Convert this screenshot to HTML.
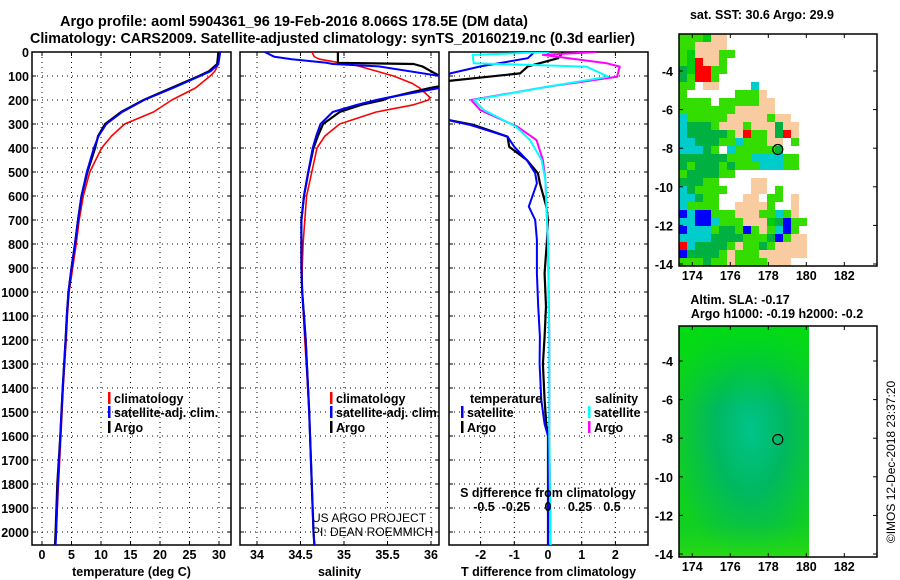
<!DOCTYPE html>
<html><head><meta charset="utf-8">
<style>
html,body{margin:0;padding:0;background:#fff;}
svg{display:block;font-family:"Liberation Sans",Arial,sans-serif;}
.b{font-weight:bold;}
</style></head>
<body>
<svg id="c" width="900" height="580" viewBox="0 0 900 580" xmlns="http://www.w3.org/2000/svg">
<text x="60" y="26" textLength="468" lengthAdjust="spacingAndGlyphs" font-size="15" class="b">Argo profile: aoml 5904361_96 19-Feb-2016 8.066S 178.5E (DM data)</text>
<text x="30" y="43" textLength="605" lengthAdjust="spacingAndGlyphs" font-size="15" class="b">Climatology: CARS2009. Satellite-adjusted climatology: synTS_20160219.nc (0.3d earlier)</text>
<g id="plots"></g>
</svg>
<script>
// ---- data ----
const depthTicks=[0,100,200,300,400,500,600,700,800,900,1000,1100,1200,1300,1400,1500,1600,1700,1800,1900,2000];
const tempTicks=[0,5,10,15,20,25,30];
const salTicks=[34,34.5,35,35.5,36];
const salTickLabels=["34","34.5","35","35.5","36"];
const tdTicks=[-2,-1,0,1,2];
const sdTicks=[-0.5,-0.25,0,0.25,0.5];
const sdTickLabels=["-0.5","-0.25","0","0.25","0.5"];

const tDepth=[0,50,80,100,150,200,250,300,350,400,500,600,700,800,900,1000,1100,1200,1400,1600,1800,2000,2054];
const tClim=[30,29.9,29.3,28.5,26,22,18.9,14,11.8,10.1,8.1,7.0,6.3,5.8,5.2,4.6,4.3,4.1,3.6,3.2,2.8,2.4,2.3];
const tSat=[30.2,29.9,28.6,26.8,22.2,17.3,13.6,10.9,9.6,8.8,7.6,6.7,6.1,5.6,5.0,4.5,4.2,4.0,3.5,3.1,2.7,2.4,2.3];
const tArgo=[29.9,29.7,28.3,26.6,21.9,17.2,13.4,10.7,9.5,9.0,7.7,6.7,6.1,5.6,5.0,4.5,4.2,4.0,3.5,3.1,2.6,2.3,2.2];

const sDepth=[0,20,30,45,50,60,100,130,150,190,200,220,250,300,350,400,500,600,700,800,900,1000,1200,1500,2000,2054];
const sClim=[34.63,34.66,34.72,34.95,35.07,35.18,35.57,35.78,35.87,35.99,35.97,35.8,35.37,34.95,34.78,34.69,34.63,34.57,34.55,34.53,34.52,34.52,34.55,34.6,34.65,34.66];
const sSat=[34.09,34.2,34.4,34.8,34.87,35.4,36.1,36.3,36.1,35.5,35.37,35.15,34.87,34.73,34.68,34.64,34.59,34.54,34.51,34.51,34.51,34.52,34.56,34.6,34.65,34.66];
const sArgo=[34.93,34.93,34.93,34.93,35.8,35.9,36.1,36.3,35.99,35.52,35.45,35.2,34.95,34.76,34.7,34.65,34.59,34.54,34.51,34.51,34.51,34.52,34.56,34.6,34.65,34.66];

const dDepth=[0,26,60,89,124,200,283,304,353,395,450,505,547,644,700,783,922,1061,1186,1300,1450,1550,1600,1800,2054];
const dtSat=[-0.4,-0.6,-2.0,-2.9,-3.2,-3.5,-3.0,-2.3,-1.2,-1.0,-0.63,-0.38,-0.33,-0.57,-0.38,-0.33,-0.33,-0.29,-0.24,-0.25,-0.2,-0.1,0,0,0];
const dtArgo=[0.45,0.3,-0.6,-0.83,-3.2,-3.5,-2.97,-2.2,-1.2,-1.15,-0.63,-0.3,-0.24,-0.05,-0.0,-0.03,-0.1,-0.06,-0.1,-0.15,-0.1,-0.05,0,0,0];
const cDepth=[0,12,47,61,103,144,200,242,311,367,450,533,800,1200,1600,2054];
const dsSat=[0.01,-0.59,-0.58,0.3,0.47,0.0,-0.58,-0.5,-0.25,-0.14,-0.05,-0.02,0.0,0.01,0.01,0.02];
const dsArgo=[0.38,-0.04,0.46,0.56,0.54,0.0,-0.6,-0.53,-0.24,-0.09,-0.04,-0.02,0.0,0.01,0.01,0.02];

const sstRows=[
"gggGpp..........","ggpppp..........","gGpppgg.........","gGrppg..........","dGrrgg..........",
"dgrrg...........","gg.pp....c......","g......gggp.....","gggg.gggggpp....","gggggggppppp....",
"cgggggpppppgpp..","cdddgpppgpppdpp.","cdddddgprggpdrp.","ccdddggcgggpp.g.","cccdg.cgggggd...",
"ddddddgggccccgg.","dgdddgdgggcccgg.","gddddgg.........","dddgg....pp.....","cdgggg...pp.g...",
"ccdgg...pp.gg.p.","cgggg..ppppg..p.","bcbbgggpppggcgp.","ccbbcgggpppGdbgg","bcccgddgbgpgcbg.",
"ccccddddgggdbgpp","rcddddgpggdgpppp","bddddgpgggpppppp","gggdggpggggppp.."];
const latTicks=[-4,-6,-8,-10,-12,-14];
const lonTicks=[174,176,178,180,182];
const floatLat=-8.066, floatLon=178.5;

// ---- drawing ----
const NS="http://www.w3.org/2000/svg";
const root=document.getElementById('plots');
function mk(tag,at,parent){const e=document.createElementNS(NS,tag);for(const k in at)e.setAttribute(k,at[k]);(parent||root).appendChild(e);return e;}
function txt(x,y,s,size,anchor,parent,bold){const t=mk('text',{x:x,y:y,'font-size':size,'text-anchor':anchor||'middle','font-weight':bold===false?'normal':'bold'},parent);t.textContent=s;return t;}
const Y=d=>52+d*0.24;
const TOP=52,BOT=545;
const panels=[
 {name:'temperature',x0:32,x1:231,fx:v=>42+v*5.9,ticks:tempTicks,labels:tempTicks.map(String),title:'temperature (deg C)'},
 {name:'salinity',x0:240,x1:439,fx:v=>257+(v-34)*87,ticks:salTicks,labels:salTickLabels,title:'salinity'},
 {name:'tdiff',x0:449,x1:648,fx:v=>548+v*33.7,ticks:tdTicks,labels:tdTicks.map(String),title:'T difference from climatology'}];
const fs=v=>548+v*128;
panels.forEach((p,i)=>{
 const g=mk('g',{});
 
 
 const cp=mk('clipPath',{id:'cp'+i},g);mk('rect',{x:p.x0,y:TOP,width:p.x1-p.x0,height:BOT-TOP},cp);
 const grid=mk('g',{stroke:'#000','stroke-width':1,'stroke-dasharray':'1,4'},g);
 
 
 depthTicks.forEach(d=>{if(d>0)mk('line',{x1:p.x0,x2:p.x1,y1:Y(d),y2:Y(d)},grid);});
 p.ticks.forEach(v=>{mk('line',{x1:p.fx(v),x2:p.fx(v),y1:TOP,y2:BOT},grid);});
 const tk=mk('g',{stroke:'#000','stroke-width':1},g);
 p.ticks.forEach((v,j)=>{const x=p.fx(v);mk('line',{x1:x,x2:x,y1:BOT,y2:BOT-4},tk);mk('line',{x1:x,x2:x,y1:TOP,y2:TOP+4},tk);
   const t=txt(x,559,p.labels[j],12.5,'middle',g);
   
   });
 depthTicks.forEach(d=>{mk('line',{x1:p.x0,x2:p.x0+4,y1:Y(d),y2:Y(d)},tk);mk('line',{x1:p.x1,x2:p.x1-4,y1:Y(d),y2:Y(d)},tk);});
 const at=txt((p.x0+p.x1)/2,576,p.title,12.5,'middle',g);
 
 
 mk('rect',{x:p.x0,y:TOP,width:p.x1-p.x0,height:BOT-TOP,fill:'none',stroke:'#000','stroke-width':1.5},g);
 p.g=g;p.clip='url(#cp'+i+')';
});
depthTicks.forEach(d=>{const t=txt(29,Y(d)+5,String(d),12.5,'end');
 
 });
function line(p,fx,depths,vals,color,name,w){
 const pts=depths.map((d,k)=>fx(vals[k]).toFixed(1)+','+Y(d).toFixed(1)).join(' ');
 const l=mk('polyline',{points:pts,fill:'none',stroke:color,'stroke-width':w||2,'clip-path':p.clip,'stroke-linejoin':'round'},p.g);
 
 
}
const P=panels;
line(P[0],P[0].fx,tDepth,tClim,'#f00','temp-climatology-line',1.6);
line(P[0],P[0].fx,tDepth,tArgo,'#000','temp-argo-line',2.2);
line(P[0],P[0].fx,tDepth,tSat,'#00f','temp-satellite-line',2);
line(P[1],P[1].fx,sDepth,sClim,'#f00','sal-climatology-line',1.6);
line(P[1],P[1].fx,sDepth,sArgo,'#000','sal-argo-line',2.2);
line(P[1],P[1].fx,sDepth,sSat,'#00f','sal-satellite-line',2);
line(P[2],P[2].fx,dDepth,dtArgo,'#000','tdiff-argo-line',2.2);
line(P[2],P[2].fx,dDepth,dtSat,'#00f','tdiff-satellite-line',2);
line(P[2],fs,cDepth,dsArgo,'#f0f','sdiff-argo-line',2);
line(P[2],fs,cDepth,dsSat,'#0ff','sdiff-satellite-line',2);
sdTicks.forEach((v,j)=>{const t=txt(fs(v),511,sdTickLabels[j],12.5,'middle',P[2].g);
 
 });
txt(548,497,'S difference from climatology',12.5,'middle',P[2].g);
function leg(g,x,y,color,label,name){
 mk('rect',{x:x,y:y-11,width:2.5,height:12,fill:color},g);
 const t=txt(x+6,y,label,12.5,'start',g);
 
 
}
[[P[0],108],[P[1],330]].forEach(([p,x],i)=>{
 leg(p.g,x,403,'#f00','climatology','legend-climatology');
 leg(p.g,x,417,'#00f','satellite-adj. clim.','legend-satellite-adj');
 leg(p.g,x,432,'#000','Argo','legend-argo');
});
txt(470,403,'temperature',12.5,'start',P[2].g);
leg(P[2].g,461,417,'#00f','satellite','legend-t-satellite');
leg(P[2].g,461,432,'#000','Argo','legend-t-argo');
txt(595,403,'salinity',12.5,'start',P[2].g);
leg(P[2].g,588,417,'#0ff','satellite','legend-s-satellite');
leg(P[2].g,588,432,'#f0f','Argo','legend-s-argo');
const pr=txt(312,522,'US ARGO PROJECT',12,'start',P[1].g,false);
const pi=txt(312,536,'PI: DEAN ROEMMICH',12,'start',P[1].g,false);

// ---- maps ----
const colors={g:'#33dd00',G:'#00cc11',d:'#00b040',c:'#00cccc',b:'#0000ff',p:'#f8cca0',r:'#ff0000'};
function mapFrame(name){
 const g=mk('g',{});
 
 
 return {g,lx:v=>679+(v-173.3)*19};
}
function axes(m,y0,y1){
 const g=m.g;
 latTicks.forEach(v=>{const y=m.ly(v);mk('line',{x1:679,x2:683,y1:y,y2:y,stroke:'#000'},g);mk('line',{x1:873,x2:877,y1:y,y2:y,stroke:'#000'},g);
  const t=txt(673,y+5,String(v),12.5,'end',g);
  
  });
 lonTicks.forEach(v=>{const x=m.lx(v);mk('line',{x1:x,x2:x,y1:y1,y2:y1-4,stroke:'#000'},g);mk('line',{x1:x,x2:x,y1:y0,y2:y0+4,stroke:'#000'},g);
  const t=txt(x,y1+14,String(v),12.5,'middle',g);
  
  });
 mk('rect',{x:679,y:y0,width:198,height:y1-y0,fill:'none',stroke:'#000','stroke-width':1.5},g);
 mk('circle',{cx:m.lx(floatLon),cy:m.ly(floatLat),r:5,fill:'none',stroke:'#000','stroke-width':1.2},g);
}
const m1=mapFrame('sst-map');
m1.ly=v=>264+( v+14)*(-19.3);
const cw=8,ch=8;
sstRows.forEach((row,r)=>{for(let c=0;c<row.length;c++){const k=row[c];if(colors[k]){
 const cell=mk('rect',{x:679+c*cw,y:34+r*ch,width:cw,height:ch,fill:colors[k]},m1.g);
 
 }}});
axes(m1,34,266);
const st=txt(762,19,'sat. SST: 30.6 Argo: 29.9',12.5,'middle',m1.g);

const m2=mapFrame('sla-map');
m2.ly=v=>554+( v+14)*(-19.3);
const defs=mk('defs',{},m2.g);
const rg=mk('radialGradient',{id:'sla',cx:'0.55',cy:'0.45',r:'0.6'},defs);
mk('stop',{offset:'0','stop-color':'#00c48a'},rg);
mk('stop',{offset:'0.45','stop-color':'#00b860'},rg);
mk('stop',{offset:'1','stop-color':'#10d020'},rg);
const lg=mk('linearGradient',{id:'slaTop',x1:0,y1:0,x2:0,y2:1},defs);
mk('stop',{offset:'0','stop-color':'#00dd10','stop-opacity':0.9},lg);
mk('stop',{offset:'0.35','stop-color':'#00dd10','stop-opacity':0},lg);
mk('stop',{offset:'0.85','stop-color':'#20d020','stop-opacity':0},lg);
mk('stop',{offset:'1','stop-color':'#30dd10','stop-opacity':0.8},lg);
const f=mk('rect',{x:679,y:326,width:130,height:231,fill:'url(#sla)'},m2.g);

mk('rect',{x:679,y:326,width:130,height:231,fill:'url(#slaTop)'},m2.g);
axes(m2,326,557);
txt(740,304,'Altim. SLA: -0.17',12.5,'middle',m2.g);
txt(777,318,'Argo h1000: -0.19 h2000: -0.2',12.5,'middle',m2.g);
const cr=txt(0,0,'©IMOS 12-Dec-2018 23:37:20',12,'middle',root,false);
cr.setAttribute('transform','translate(895,462) rotate(-90)');


</script>
</body></html>
